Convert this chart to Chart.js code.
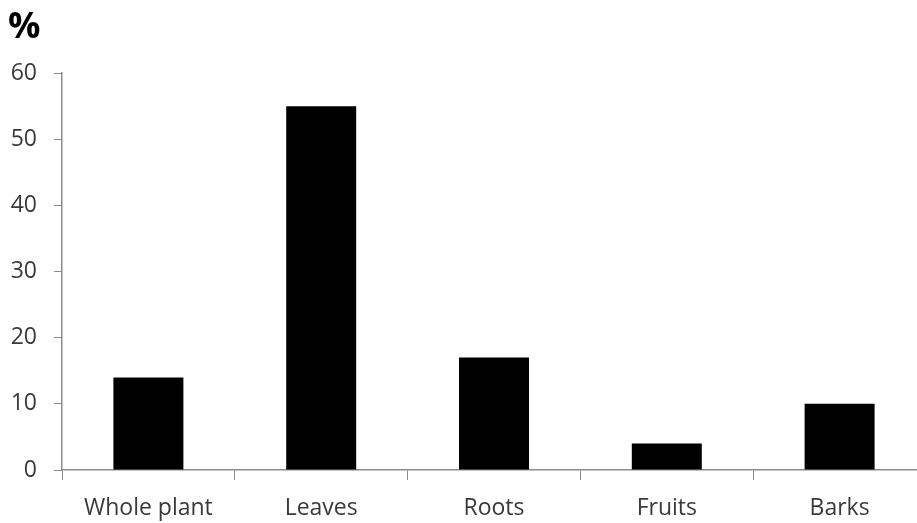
<!DOCTYPE html>
<html>
<head>
<meta charset="utf-8">
<script src="https://cdn.jsdelivr.net/npm/chart.js@4"></script>
<style>
    html, body { margin: 0; padding: 0; overflow: hidden; background: #fff; }
    #wrap { width: 926px; height: 523px; }
</style>
</head>
<body>
<div id="wrap"><canvas id="myChart"></canvas></div>
<script>
const categories = ['Whole plant', 'Leaves', 'Roots', 'Fruits', 'Barks'];
const percentValues = [14, 55, 17, 4, 10];
const yTicks = [0, 10, 20, 30, 40, 50, 60];

const axisColor = '#8c8c8c';
const textColor = '#3a3a3a';

const ctx = document.getElementById('myChart').getContext('2d');
const myChart = new Chart(ctx, {
    type: 'bar',
    data: {
        labels: categories,
        datasets: [{
            data: percentValues,
            backgroundColor: '#000000',
            borderWidth: 0,
            barPercentage: 0.81,
            categoryPercentage: 0.5
        }]
    },
    options: {
        responsive: true,
        maintainAspectRatio: false,
        animation: false,
        layout: { padding: { left: 8, top: 6, right: 0, bottom: 0 } },
        plugins: {
            legend: { display: false },
            tooltip: { enabled: false },
            title: {
                display: true,
                text: '%',
                align: 'start',
                color: '#000',
                font: { family: 'Open Sans', size: 36, weight: 'bold' },
                padding: { top: 0, bottom: 24 }
            }
        },
        scales: {
            x: {
                grid: {
                    display: true,
                    drawOnChartArea: false,
                    drawTicks: true,
                    tickLength: 10,
                    color: axisColor,
                    offset: true
                },
                border: { display: true, color: axisColor, width: 1.5 },
                ticks: {
                    color: textColor,
                    font: { family: 'Open Sans', size: 23 },
                    padding: 15,
                    maxRotation: 0
                },
                afterFit: (scale) => { scale.height = 53; }
            },
            y: {
                min: 0,
                max: 60,
                afterBuildTicks: (scale) => {
                    scale.ticks = yTicks.map(v => ({ value: v }));
                },
                grid: {
                    display: true,
                    drawOnChartArea: false,
                    drawTicks: true,
                    tickLength: 8,
                    color: axisColor
                },
                border: { display: true, color: axisColor, width: 1.5 },
                ticks: {
                    color: textColor,
                    font: { family: 'Open Sans', size: 23 },
                    padding: 17
                },
                afterFit: (scale) => { scale.width = 54; }
            }
        }
    }
});
</script>
</body>
</html>
